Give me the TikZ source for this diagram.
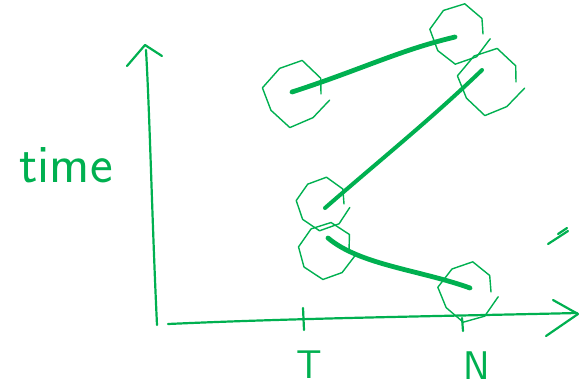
\documentclass[tikz,border=0pt]{standalone}
\usepackage{tikz}
\usetikzlibrary{positioning, arrows.meta, calc, decorations.pathmorphing}
\definecolor{penGreen}{RGB}{0,176,80}

\begin{document}
\begin{tikzpicture}[x=0.5pt, y=-0.5pt, line cap=round, line join=round,
  pen/.style={penGreen, line width=1.1pt},
  blob/.style={circle, draw=penGreen, line width=0.7pt, inner sep=0pt,
    decoration={random steps, segment length=8pt, amplitude=0.7pt}, decorate},
  link/.style={penGreen, line width=2.4pt},
  hand/.style={penGreen, font=\sffamily\fontsize{20}{21}\selectfont}]
\pgfmathsetseed{7}
\useasboundingbox (0,0) rectangle (582,391);
% axes
\draw[pen] (157,325) .. controls (152,220) and (150,120) .. (146,50);
\draw[pen] (127,66) -- (145,45) -- (162,56);
\draw[pen] (168,324) .. controls (300,318) and (450,316) .. (577,313);
\draw[pen] (553,300) -- (578,314) -- (546,336);
% ticks
\draw[pen] (303,308) -- (304,330);
\draw[pen] (462,318) -- (463,331);
% labels
\node[hand, font=\sffamily\fontsize{27}{28}\selectfont] (timeLbl) at (66,165) {time};
\node[hand] (tLbl) at (309,365) {T};
\node[hand] (nLbl) at (477,366) {N};
\draw[pen] (558,234) -- (567,228);
\draw[pen] (548,244) -- (568,231);
% sample circles
\node[blob, minimum size=25pt] (a) at (296,94) {};
\node[blob, minimum size=23pt] (b) at (460,34) {};
\node[blob, minimum size=25pt] (c) at (491,82) {};
\node[blob, minimum size=21pt] (d) at (323,204) {};
\node[blob, minimum size=22pt] (e) at (327,251) {};
\node[blob, minimum size=23pt] (f) at (468,292) {};
% links
\draw[link] ([shift={(-4,-2)}]a.center) .. controls (360,70) and (400,50) .. ([shift={(-5,3)}]b.center);
\draw[link, line width=2pt] ([shift={(-9,-12)}]c.center) .. controls (430,120) and (380,160) .. ([shift={(2,4)}]d.center);
\draw[link] ([shift={(1,-13)}]e.center) .. controls (360,265) and (420,270) .. ([shift={(2,-4)}]f.center);
\end{tikzpicture}
\end{document}
